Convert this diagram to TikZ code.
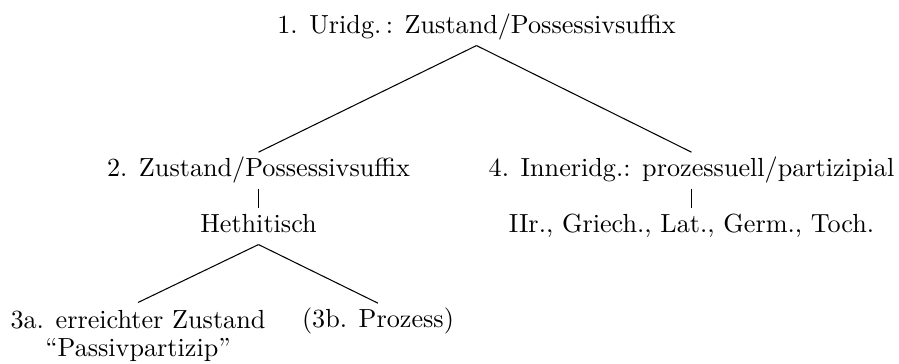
\documentclass[tikz,border=0pt]{standalone}
\begin{document}
\begin{tikzpicture}[x=0.382pt,y=-0.382pt,
  lbl/.style={inner xsep=0pt, inner ysep=2.6pt, text height=6.3pt, text depth=2pt, anchor=base},
  twoline/.style={inner xsep=0pt, inner ysep=2.6pt, align=center, anchor=north},
  branch/.style={line width=0.4pt}]
\useasboundingbox (0,0) rectangle (899,363);

% tree labels
\node[lbl] (n1) at (476.5,33) {1. Uridg.\,: Zustand/Possessivsuffix};
\node[lbl] (n2) at (258.5,176) {2. Zustand/Possessivsuffix};
\node[lbl] (n4) at (691.5,176) {4. Inneridg.: prozessuell/partizipial};
\node[lbl] (heth) at (258.5,232) {Hethitisch};
\node[lbl] (lang) at (691.5,232) {IIr., Griech., Lat., Germ., Toch.};
\node[twoline] (n3a) at (138,302.5) {3a. erreichter Zustand\\[-1.2pt]``Passivpartizip''};
\node[lbl] (n3b) at (378,327) {(3b. Prozess)};

% branches
\draw[branch] (n1.south) -- (n2.north);
\draw[branch] (n1.south) -- (n4.north);
\draw[branch] (n2.south) -- (heth.north);
\draw[branch] (n4.south) -- (lang.north);
\draw[branch] (heth.south) -- (n3a.north);
\draw[branch] (heth.south) -- (n3b.north);
\end{tikzpicture}
\end{document}
